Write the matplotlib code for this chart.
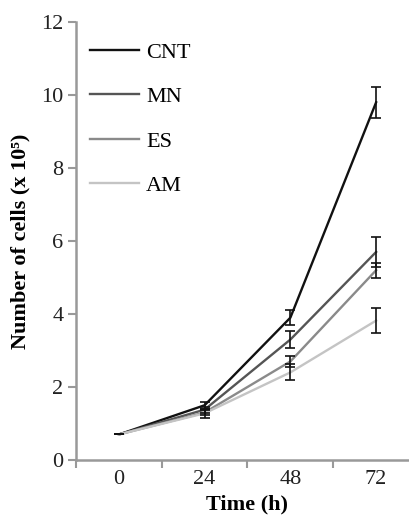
import numpy as np
import matplotlib.pyplot as plt

plt.rcParams['font.family'] = ['Liberation Serif', 'DejaVu Serif']

times = ["0", "24", "48", "72"]
series = ["CNT", "MN", "ES", "AM"]
cnt = [0.7, 1.5, 3.9, 9.8]
mn = [0.7, 1.38, 3.3, 5.7]
es = [0.7, 1.3, 2.7, 5.2]
am = [0.7, 1.28, 2.4, 3.82]
cnt_err = [0.0, 0.1, 0.2, 0.42]
mn_err = [0.0, 0.08, 0.24, 0.4]
es_err = [0.0, 0.08, 0.14, 0.2]
am_err = [0.0, 0.12, 0.22, 0.34]

colors = ["#111111", "#555555", "#8a8a8a", "#c4c4c4"]
values = [cnt, mn, es, am]
errors = [cnt_err, mn_err, es_err, am_err]

fig = plt.figure(figsize=(4.10, 5.23), dpi=100)
ax = fig.add_axes([76/410, 63/523, 343/410, 438/523])

x = np.arange(len(times))
for name, v, e, c in zip(series, values, errors, colors):
    ax.errorbar(x, v, yerr=e, fmt='none', ecolor='#111111', elinewidth=1.2,
                capsize=3.6, capthick=1.2, zorder=3)
for name, v, c in zip(series, values, colors):
    ax.plot(x, v, color=c, lw=1.7, label=name, zorder=2)

ax.set_xlim(-0.5, 3.5)
ax.set_ylim(0, 12)
ax.set_yticks([0, 2, 4, 6, 8, 10, 12])
ax.set_xticks([-0.5, 0.5, 1.5, 2.5])
ax.set_xticklabels([])
ax.set_xticks(x, minor=True)
ax.set_xticklabels(times, minor=True)
ax.tick_params(axis='x', which='minor', length=0, pad=7, labelsize=16, labelcolor='#222222')
ax.tick_params(axis='x', which='major', length=6, width=1.5, color='#999999')
ax.tick_params(axis='y', length=6, width=1.5, color='#999999', pad=3, labelsize=16, labelcolor='#222222')
for s in ['top', 'right']:
    ax.spines[s].set_visible(False)
for s in ['left', 'bottom']:
    ax.spines[s].set_color('#999999')
    ax.spines[s].set_linewidth(1.8)

ax.set_xlabel("Time (h)", fontsize=16, fontweight='bold', labelpad=4)
ax.set_ylabel("Number of cells (x 10\u2075)", fontsize=16, fontweight='bold', labelpad=8)

ax.legend(loc='upper left', bbox_to_anchor=(-0.01, 0.995), frameon=False, fontsize=16,
          handlelength=2.2, handletextpad=0.3, labelspacing=1.08, borderaxespad=0.4)

fig.savefig("out.png", dpi=100)
